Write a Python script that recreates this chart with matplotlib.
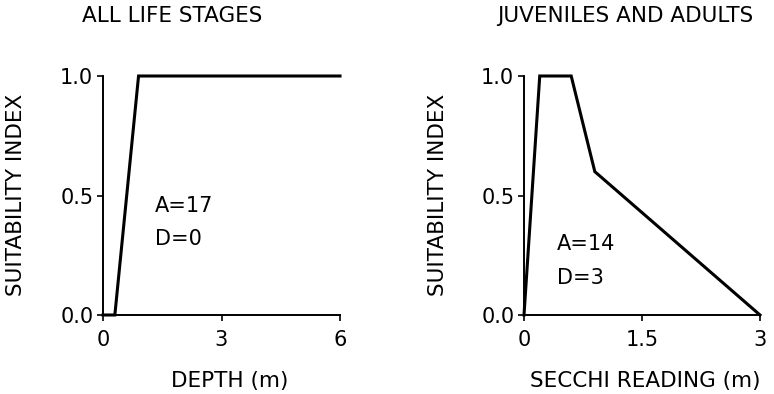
import matplotlib
matplotlib.use("Agg")
import matplotlib.pyplot as plt

# Left panel: depth
depth_x = [0.0, 0.3, 0.9, 6.0]
depth_y = [0.0, 0.0, 1.0, 1.0]
# Right panel: secchi reading
secchi_x = [0.0, 0.2, 0.6, 0.9, 3.0]
secchi_y = [0.0, 1.0, 1.0, 0.6, 0.0]

titles = ["ALL LIFE STAGES", "JUVENILES AND ADULTS"]
xlabels = ["DEPTH (m)", "SECCHI READING (m)"]
ylabel = "SUITABILITY INDEX"
xticks = [[0, 3, 6], [0, 1.5, 3]]
xticklabels = [["0", "3", "6"], ["0", "1.5", "3"]]
yticks = [0.0, 0.5, 1.0]
yticklabels = ["0.0", "0.5", "1.0"]
notes = [("A=17", "D=0"), ("A=14", "D=3")]
note_pos = [((1.32, 0.454), (1.32, 0.32)), ((0.42, 0.299), (0.42, 0.153))]

plt.rcParams['font.family'] = ['DejaVu Sans']
FS = 15
LFS = 15.5

W, H = 774, 394
fig = plt.figure(figsize=(7.74, 3.94), dpi=100)
ax1 = fig.add_axes([103 / W, 1 - 315 / H, 237 / W, 239 / H])
ax2 = fig.add_axes([524 / W, 1 - 315 / H, 236 / W, 239 / H])

data = [(depth_x, depth_y), (secchi_x, secchi_y)]
xlims = [(0, 6), (0, 3)]
title_pos = [(172.5, 15.5), (625.5, 15.5)]
xlabel_pos = [(230, 380.5), (645, 380.5)]
ylabel_pos = [(16.5, 195), (438.5, 195)]

for i, ax in enumerate([ax1, ax2]):
    x, y = data[i]
    ax.plot(x, y, color='black', lw=2.2, solid_joinstyle='miter', clip_on=False)
    ax.set_xlim(*xlims[i])
    ax.set_ylim(0, 1.0)
    for s in ['top', 'right']:
        ax.spines[s].set_visible(False)
    for s in ['left', 'bottom']:
        ax.spines[s].set_linewidth(1.4)
    ax.set_xticks(xticks[i])
    ax.set_xticklabels(xticklabels[i])
    ax.set_yticks(yticks)
    ax.set_yticklabels(yticklabels)
    ax.tick_params(direction='out', length=4, width=1.2, labelsize=FS)
    ax.tick_params(axis='x', pad=7)
    ax.tick_params(axis='y', pad=3)
    tx, ty = title_pos[i]
    fig.text(tx / W, 1 - ty / H, titles[i], fontsize=LFS, ha='center', va='center')
    lx, ly = xlabel_pos[i]
    fig.text(lx / W, 1 - ly / H, xlabels[i], fontsize=LFS, ha='center', va='center')
    yx, yy = ylabel_pos[i]
    fig.text(yx / W, 1 - yy / H, ylabel, fontsize=LFS, ha='center', va='center',
             rotation=90)
    (p1, p2) = note_pos[i]
    ax.text(p1[0], p1[1], notes[i][0], fontsize=FS, va='center', ha='left')
    ax.text(p2[0], p2[1], notes[i][1], fontsize=FS, va='center', ha='left')

fig.savefig("out.png", dpi=100)
